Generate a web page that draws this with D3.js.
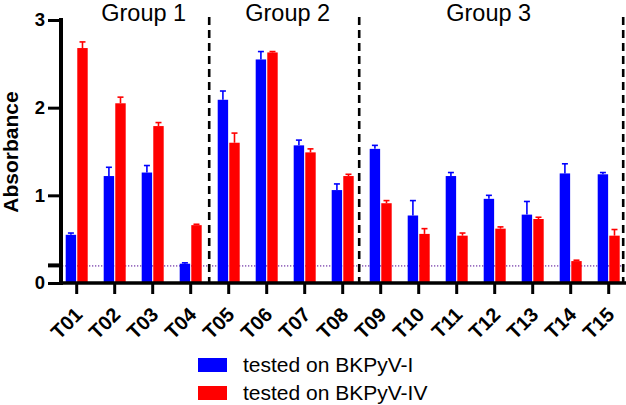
<!DOCTYPE html>
<html>
<head>
<meta charset="utf-8">
<script src="https://cdn.jsdelivr.net/npm/d3@7"></script>
<style>
  body { margin: 0; background: #fff; }
  svg { display: block; font-family: "Liberation Sans", Arial, sans-serif; }
</style>
</head>
<body>
<svg id="chart" width="626" height="405"></svg>
<script>
// categories and series
var categories = ["T01","T02","T03","T04","T05","T06","T07","T08","T09","T10","T11","T12","T13","T14","T15"];
var seriesNames = ["tested on BKPyV-I", "tested on BKPyV-IV"];
var valuesI  = [0.55, 1.22, 1.26, 0.22, 2.09, 2.55, 1.57, 1.06, 1.53, 0.77, 1.22, 0.96, 0.78, 1.25, 1.24];
var errorsI  = [0.02, 0.10, 0.08, 0.01, 0.10, 0.09, 0.06, 0.07, 0.04, 0.17, 0.04, 0.04, 0.15, 0.11, 0.02];
var valuesIV = [2.68, 2.05, 1.79, 0.66, 1.60, 2.63, 1.49, 1.22, 0.91, 0.56, 0.54, 0.62, 0.73, 0.25, 0.54];
var errorsIV = [0.07, 0.07, 0.04, 0.01, 0.11, 0.01, 0.04, 0.02, 0.03, 0.06, 0.03, 0.02, 0.02, 0.01, 0.07];
var yTicks = [0, 1, 2, 3];
var cutoff = 0.195;
var groupNames = ["Group 1", "Group 2", "Group 3"];
var groupFirst = ["T01", "T05", "T09"];
var groupLast  = ["T04", "T08", "T15"];

var colors = ["#0000ff", "#ff0000"];

var svg = d3.select("#chart");

var x = d3.scaleBand().domain(categories).range([57.7, 627.7]).padding(0);
var half = x.bandwidth() / 2;
var xs = d3.scaleBand().domain([0, 1]).range([half - 11, half + 11]).paddingInner(0.1);
var y = d3.scaleLinear().domain([0, 3]).range([283, 20]);

// cutoff dotted line (behind the bars)
svg.append("line")
  .attr("x1", 62).attr("x2", 626)
  .attr("y1", y(cutoff)).attr("y2", y(cutoff))
  .attr("stroke", "#9a6fc0")
  .attr("stroke-width", 1.6)
  .attr("stroke-dasharray", "1.3,1.7");

// rows of data for each bar
var rows = [];
categories.forEach(function(c, i){
  rows.push({cat: c, s: 0, v: valuesI[i], e: errorsI[i]});
  rows.push({cat: c, s: 1, v: valuesIV[i], e: errorsIV[i]});
});

var bars = svg.append("g").selectAll("g")
  .data(rows)
  .enter()
  .append("g")
  .attr("transform", function(d){ return "translate(" + (x(d.cat) + xs(d.s)) + ",0)"; });

bars.append("rect")
  .attr("x", 0)
  .attr("width", xs.bandwidth())
  .attr("y", function(d){ return y(d.v); })
  .attr("height", function(d){ return y(0) - y(d.v); })
  .attr("fill", function(d){ return colors[d.s]; });

// error bars, upper side only
bars.append("line")
  .attr("x1", xs.bandwidth() / 2).attr("x2", xs.bandwidth() / 2)
  .attr("y1", function(d){ return y(d.v); })
  .attr("y2", function(d){ return y(d.v + d.e); })
  .attr("stroke", function(d){ return colors[d.s]; })
  .attr("stroke-width", 1.6);
bars.append("line")
  .attr("x1", xs.bandwidth() / 2 - 3).attr("x2", xs.bandwidth() / 2 + 3)
  .attr("y1", function(d){ return y(d.v + d.e); })
  .attr("y2", function(d){ return y(d.v + d.e); })
  .attr("stroke", function(d){ return colors[d.s]; })
  .attr("stroke-width", 1.6);

// group dividers
var dividerNudge = [18.5, 16.5, 14.5];
svg.append("g").selectAll("line")
  .data(groupLast)
  .enter()
  .append("line")
  .attr("x1", function(d, i){ return x(d) + half + dividerNudge[i]; })
  .attr("x2", function(d, i){ return x(d) + half + dividerNudge[i]; })
  .attr("y1", 17).attr("y2", y(0))
  .attr("stroke", "#000")
  .attr("stroke-width", 2.6)
  .attr("stroke-dasharray", "8,5");

// group titles
var labelNudge = [10, 2, -6];
svg.append("g").selectAll("text")
  .data(groupNames)
  .enter()
  .append("text")
  .attr("x", function(d, i){
    return (x(groupFirst[i]) + x(groupLast[i])) / 2 + half + labelNudge[i];
  })
  .attr("y", 20.5)
  .attr("text-anchor", "middle")
  .attr("font-size", "23.5px")
  .attr("fill", "#000")
  .text(function(d){ return d; });

// y axis
var yAxis = svg.append("g")
  .attr("transform", "translate(61,0)")
  .call(d3.axisLeft(y).tickValues(yTicks).tickFormat(d3.format("d")).tickSize(13).tickSizeOuter(0).tickPadding(3));
yAxis.select(".domain").attr("stroke-width", 4).attr("d", "M0,18V285");
yAxis.selectAll(".tick line").attr("stroke-width", 3);
yAxis.selectAll(".tick text")
  .attr("font-size", "18.5px").attr("font-weight", "bold").attr("fill", "#000")
  .attr("font-family", "'Liberation Sans', Arial, sans-serif");

// cutoff tick on the y axis
svg.append("line")
  .attr("x1", 48).attr("x2", 61)
  .attr("y1", y(cutoff) - 0.5).attr("y2", y(cutoff) - 0.5)
  .attr("stroke", "#000").attr("stroke-width", 4);

// x axis
var xAxis = svg.append("g")
  .attr("transform", "translate(0," + y(0) + ")")
  .call(d3.axisBottom(x).tickSize(11).tickSizeOuter(0));
xAxis.select(".domain").attr("stroke-width", 3.5).attr("d", "M59,0H626");
xAxis.selectAll(".tick line").attr("stroke-width", 3);
xAxis.selectAll(".tick text")
  .attr("font-size", "20px").attr("font-weight", "bold").attr("fill", "#000")
  .attr("font-family", "'Liberation Sans', Arial, sans-serif")
  .attr("text-anchor", "end")
  .attr("dy", null)
  .attr("y", null)
  .attr("transform", "translate(7,33) rotate(-45)");

// y label
svg.append("text")
  .attr("transform", "translate(18,152) rotate(-90)")
  .attr("text-anchor", "middle")
  .attr("font-size", "21px")
  .attr("font-weight", "bold")
  .text("Absorbance");

// legend
var legend = svg.append("g").selectAll("g")
  .data(seriesNames)
  .enter()
  .append("g")
  .attr("transform", function(d, i){ return "translate(198," + (358 + i * 28) + ")"; });
legend.append("rect")
  .attr("width", 29).attr("height", 14)
  .attr("fill", function(d, i){ return colors[i]; });
legend.append("text")
  .attr("x", 45).attr("y", 14)
  .attr("font-size", "21px")
  .text(function(d){ return d; });
</script>
</body>
</html>
